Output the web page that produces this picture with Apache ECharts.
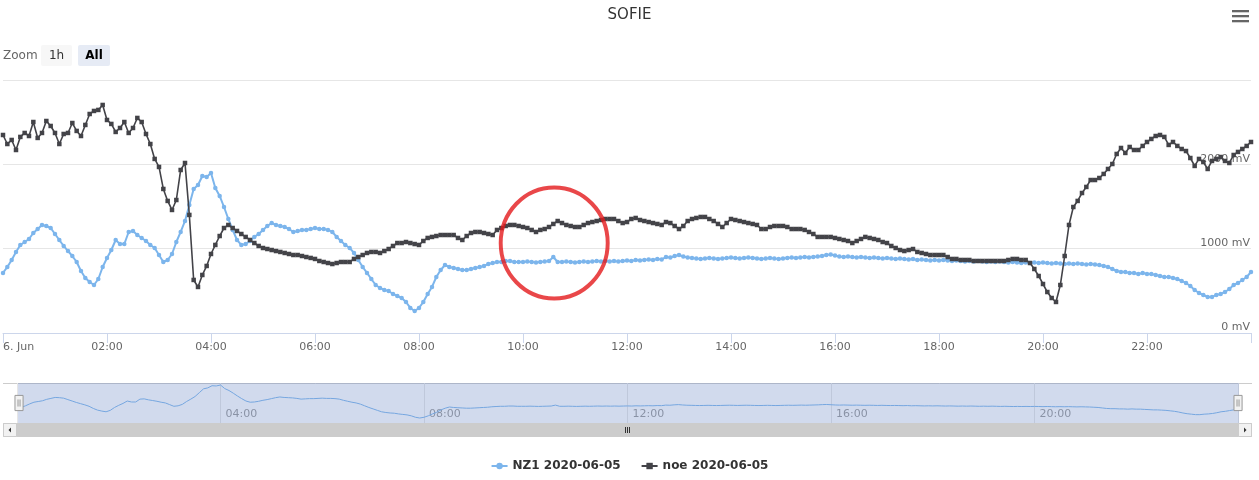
<!DOCTYPE html>
<html>
<head>
<meta charset="utf-8">
<script src="https://cdn.jsdelivr.net/npm/echarts@6/dist/echarts.min.js"></script>
<style>
html,body{margin:0;padding:0;background:#fff;}
#chart{width:1259px;height:480px;}
</style>
</head>
<body>
<div id="chart"></div>
<script>
// sample times in hours (5-minute steps, 00:00 .. 24:00)
var stepMinutes = 5;
// NZ1 2020-06-05 (mV)
var nz1 = [712,783,866,961,1044,1079,1115,1186,1233,1281,
1269,1245,1174,1103,1032,972,913,842,735,652,
605,569,640,783,890,984,1103,1055,1055,1198,
1210,1162,1127,1091,1044,1008,925,842,866,937,
1079,1198,1328,1518,1708,1755,1862,1850,1898,1720,
1625,1494,1352,1222,1103,1044,1055,1091,1139,1174,
1222,1269,1304,1281,1269,1257,1233,1198,1210,1222,
1222,1233,1245,1233,1233,1222,1198,1139,1091,1044,
1008,949,866,783,712,640,569,534,510,498,
463,439,415,368,297,261,297,368,463,546,
664,747,806,783,771,759,747,747,759,771,
783,795,818,830,842,842,854,854,842,842,
842,848,842,836,842,848,854,901,842,842,
848,842,836,842,848,842,848,854,848,854,
848,854,848,854,860,854,866,860,866,872,
866,878,872,901,895,913,925,907,895,890,
884,878,884,890,884,878,884,890,895,890,
884,890,895,890,884,878,884,890,884,878,
884,890,895,890,895,901,895,901,907,913,
925,931,919,907,901,907,901,895,901,895,
890,895,890,884,890,884,878,884,878,872,
878,866,872,866,860,866,860,866,860,854,
860,854,848,854,848,854,848,842,848,842,
848,842,836,842,836,830,836,830,836,830,
836,830,824,830,824,818,824,818,824,818,
812,818,812,806,795,783,759,735,723,723,
712,712,700,712,700,700,688,676,664,664,
652,640,617,593,557,510,474,451,427,427,
451,463,486,522,569,593,629,664,723];
// noe 2020-06-05 (mV)
var noe = [2348,2241,2289,2170,2325,2372,2336,2502,2313,2372,
2514,2455,2372,2241,2360,2372,2490,2396,2336,2467,
2597,2633,2645,2704,2526,2479,2384,2431,2502,2372,
2431,2550,2502,2360,2241,2064,1969,1708,1566,1459,
1577,1933,2016,1400,629,546,688,795,937,1044,
1150,1245,1281,1245,1210,1174,1139,1103,1067,1032,
1008,996,984,972,961,949,937,925,925,913,
901,890,878,854,842,830,818,830,842,842,
842,878,901,925,949,961,961,949,972,996,
1032,1067,1067,1079,1067,1055,1044,1091,1127,1139,
1150,1162,1162,1162,1162,1127,1103,1150,1186,1198,
1198,1186,1174,1162,1222,1245,1269,1281,1281,1269,
1257,1245,1222,1198,1222,1233,1257,1293,1328,1304,
1281,1269,1257,1257,1281,1304,1316,1328,1340,1352,
1352,1352,1328,1304,1316,1352,1364,1340,1328,1316,
1304,1293,1281,1316,1304,1269,1233,1269,1328,1352,
1364,1376,1376,1352,1328,1293,1257,1304,1352,1340,
1328,1316,1304,1293,1281,1233,1233,1257,1269,1269,
1269,1257,1233,1233,1233,1222,1198,1174,1139,1139,
1139,1139,1127,1115,1103,1091,1067,1091,1115,1139,
1127,1115,1103,1079,1067,1032,1008,984,972,984,
996,961,949,937,925,925,925,925,901,878,
878,866,866,866,854,854,854,854,854,854,
854,854,866,878,878,866,866,830,759,676,
581,486,415,368,569,913,1281,1494,1566,1660,
1732,1814,1814,1838,1886,1945,2004,2123,2194,2135,
2206,2170,2170,2218,2265,2301,2336,2348,2325,2230,
2265,2218,2182,2158,2075,1981,2064,2028,1945,2040,
2064,2087,2040,2016,2111,2147,2182,2218,2265];
// red annotation circle [hour, mV]
var annotation = [[10.6, 1067]];
var yTicks = [0, 1000, 2000, 3000];
var seriesNames = ['NZ1 2020-06-05', 'noe 2020-06-05'];

function pairs(arr){
  return arr.map(function(v,i){ return [i*stepMinutes/60, v]; });
}
function hhmm(v){
  return (v<10?'0':'') + v + ':00';
}

var chart = echarts.init(document.getElementById('chart'), null, {renderer:'canvas'});
var font = 'DejaVu Sans';

var option = {
  animation: false,
  textStyle: {fontFamily: font},
  title: {
    text: 'SOFIE', left: 'center', top: 3,
    textStyle: {fontFamily: font, fontSize: 15, fontWeight: 'normal', color: '#333'}
  },
  legend: {
    data: seriesNames, top: 455, left: 'center', itemGap: 20,
    itemWidth: 16, itemHeight: 8,
    textStyle: {fontFamily: font, fontSize: 12, fontWeight: 'bold', color: '#333'}
  },
  grid: [
    {left: 3, right: 8, top: 80, height: 253},
    {left: 17, right: 21, top: 383, height: 40}
  ],
  xAxis: [
    {
      type: 'value', gridIndex: 0, min: 0, max: 24, interval: 2,
      axisLine: {lineStyle: {color: '#ccd6eb'}},
      axisTick: {length: 10, lineStyle: {color: '#ccd6eb'}},
      splitLine: {show: false},
      axisLabel: {
        color: '#666', fontSize: 11, margin: 9, alignMinLabel: 'left',
        formatter: function(v){ if (v === 0) return '6. Jun'; if (v >= 24) return ''; return hhmm(v); }
      }
    },
    {
      type: 'value', gridIndex: 1, min: 0, max: 24, interval: 4,
      axisLine: {show: false}, axisTick: {show: false},
      splitLine: {show: true, lineStyle: {color: '#e6e6e6'}},
      axisLabel: {
        inside: true, color: '#999', fontSize: 11, margin: 3, align: 'left', padding: [0,0,0,5],
        formatter: function(v){ if (v === 0 || v >= 24) return ''; return hhmm(v); }
      }
    }
  ],
  yAxis: [
    {
      type: 'value', gridIndex: 0, position: 'right', min: yTicks[0], max: yTicks[yTicks.length-1], interval: 1000,
      axisLine: {show: false}, axisTick: {show: false},
      splitLine: {lineStyle: {color: '#e6e6e6'}},
      axisLabel: {
        inside: true, margin: 1, verticalAlign: 'bottom', color: '#666', fontSize: 11,
        showMaxLabel: false,
        formatter: function(v){ return v + ' mV'; }
      }
    },
    {
      type: 'value', gridIndex: 1,
      min: function(e){ return e.min - (e.max - e.min) * 5 / 33; },
      max: function(e){ return e.max + (e.max - e.min) * 2 / 33; },
      show: false, splitLine: {show: false}
    }
  ],
  dataZoom: [{
    type: 'slider', xAxisIndex: 0, filterMode: 'none', start: 0, end: 100,
    left: 17, right: 21, top: 383, height: 40,
    backgroundColor: 'rgba(0,0,0,0)', borderColor: 'rgba(0,0,0,0)',
    fillerColor: 'rgba(102,133,194,0.3)',
    showDataShadow: false, showDetail: false, brushSelect: false,
    handleIcon: 'path://M0,0H8V15H0Z M3,4V11 M5,4V11',
    handleSize: '38%',
    handleStyle: {color: '#f2f2f2', borderColor: '#999', borderWidth: 1},
    emphasis: {handleStyle: {color: '#f2f2f2', borderColor: '#999'}}
  }],
  graphic: [
    {type: 'text', left: 3, top: 50, style: {text: 'Zoom', fill: '#666', font: '12px "DejaVu Sans"'}},
    {type: 'rect', shape: {x: 41, y: 45, width: 31, height: 21, r: 2}, style: {fill: '#f7f7f7'}},
    {type: 'text', x: 56.5, y: 55.5, style: {text: '1h', fill: '#333', font: '12px "DejaVu Sans"', align: 'center', verticalAlign: 'middle'}},
    {type: 'rect', shape: {x: 78, y: 45, width: 32, height: 21, r: 2}, style: {fill: '#e6ebf5'}},
    {type: 'text', x: 94, y: 55.5, style: {text: 'All', fill: '#000', font: 'bold 12px "DejaVu Sans"', align: 'center', verticalAlign: 'middle'}},
    {type: 'rect', shape: {x: 1232, y: 10, width: 17, height: 2.3}, style: {fill: '#666'}},
    {type: 'rect', shape: {x: 1232, y: 15, width: 17, height: 2.3}, style: {fill: '#666'}},
    {type: 'rect', shape: {x: 1232, y: 20, width: 17, height: 2.3}, style: {fill: '#666'}},
    {type: 'line', shape: {x1: 3, y1: 383.5, x2: 1252, y2: 383.5}, style: {stroke: '#cccccc', lineWidth: 1}},
    {type: 'rect', shape: {x: 3, y: 423, width: 1249, height: 14}, style: {fill: '#cccccc'}},
    {type: 'rect', shape: {x: 3.5, y: 423.5, width: 13, height: 13}, style: {fill: '#f2f2f2', stroke: '#cccccc', lineWidth: 1}},
    {type: 'rect', shape: {x: 1238.5, y: 423.5, width: 13, height: 13}, style: {fill: '#f2f2f2', stroke: '#cccccc', lineWidth: 1}},
    {type: 'polygon', shape: {points: [[8.5,430],[11,427.5],[11,432.5]]}, style: {fill: '#333'}},
    {type: 'polygon', shape: {points: [[1246.5,430],[1244,427.5],[1244,432.5]]}, style: {fill: '#333'}},
    {type: 'line', shape: {x1: 625.5, y1: 427, x2: 625.5, y2: 433}, style: {stroke: '#333', lineWidth: 1}},
    {type: 'line', shape: {x1: 627.5, y1: 427, x2: 627.5, y2: 433}, style: {stroke: '#333', lineWidth: 1}},
    {type: 'line', shape: {x1: 629.5, y1: 427, x2: 629.5, y2: 433}, style: {stroke: '#333', lineWidth: 1}}
  ],
  series: [
    {
      name: seriesNames[0], type: 'line', xAxisIndex: 0, yAxisIndex: 0,
      data: pairs(nz1), color: '#7cb5ec',
      lineStyle: {width: 2, color: '#7cb5ec'},
      symbol: 'circle', symbolSize: 4.5, showSymbol: true, showAllSymbol: true,
      itemStyle: {color: '#7cb5ec'}, z: 2
    },
    {
      name: seriesNames[1], type: 'line', xAxisIndex: 0, yAxisIndex: 0,
      data: pairs(noe), color: '#434348',
      lineStyle: {width: 1.6, color: '#434348'},
      symbol: 'rect', symbolSize: 4.5, showSymbol: true, showAllSymbol: true,
      itemStyle: {color: '#434348'}, z: 3
    },
    {
      name: 'annotation', type: 'scatter', xAxisIndex: 0, yAxisIndex: 0,
      data: annotation, symbol: 'circle', symbolSize: [107, 111], silent: true,
      itemStyle: {color: 'rgba(0,0,0,0)', borderColor: '#e3191c', borderWidth: 4}, z: 6
    },
    {
      name: 'navigator', type: 'line', xAxisIndex: 1, yAxisIndex: 1,
      data: pairs(nz1), showSymbol: false, symbol: 'none', silent: true,
      lineStyle: {width: 1, color: '#7cb5ec'}, z: 2
    }
  ]
};
chart.setOption(option);
</script>
</body>
</html>
